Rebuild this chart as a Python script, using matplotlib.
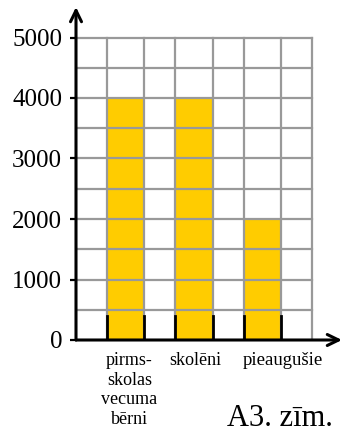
import matplotlib
matplotlib.use("Agg")
import matplotlib.pyplot as plt
import matplotlib.transforms as mtransforms

plt.rcParams["font.family"] = ["Liberation Serif", "DejaVu Serif"]

categories = ["pirms-\nskolas\nvecuma\nbērni", "skolēni", "pieaugušie"]
values = [4000, 4000, 2000]
yticks = [0, 1000, 2000, 3000, 4000, 5000]

gap = 1.0
barw = 1.2
ymax_grid = 5000
ystep = 500

lefts = [gap + i * (barw + gap) for i in range(len(values))]
centers = [l + barw / 2 for l in lefts]
xgrid_end = gap * (len(values) + 1) + barw * len(values)

fig = plt.figure(figsize=(3.43, 4.28), dpi=100)
ax = fig.add_axes([76 / 343, 88 / 428, 266 / 343, 333 / 428])
xmax = xgrid_end * 266 / 236
ymax = 5000 * 333 / 302.5
ax.set_xlim(0, xmax)
ax.set_ylim(0, ymax)

ax.bar(lefts, values, width=barw, align="edge", color="#ffcc00", zorder=1)

# grid
for y in range(ystep, ymax_grid + 1, ystep):
    ax.plot([0, xgrid_end], [y, y], color="#999999", lw=1.6, zorder=2)
xs = [0]
for l in lefts:
    xs += [l, l + barw]
xs.append(xgrid_end)
for x in xs[1:]:
    ax.plot([x, x], [0, ymax_grid], color="#999999", lw=1.6, zorder=2)

# short marks at bar edges
for l in lefts:
    ax.plot([l, l], [0, 390], color="black", lw=2, zorder=3)
    ax.plot([l + barw, l + barw], [0, 390], color="black", lw=2, zorder=3)

# axes with arrows
arrow = dict(arrowstyle="->,head_length=0.45,head_width=0.22", lw=2.2,
             color="black", shrinkA=0, shrinkB=0, mutation_scale=18)
ax.annotate("", xy=(0, ymax), xytext=(0, 0), arrowprops=arrow,
            annotation_clip=False, zorder=4)
ax.annotate("", xy=(xmax, 0), xytext=(0, 0), arrowprops=arrow,
            annotation_clip=False, zorder=4)

for s in ax.spines.values():
    s.set_visible(False)

ax.set_yticks(yticks)
ax.set_yticklabels([str(v) for v in yticks], fontsize=18)
ax.tick_params(axis="y", length=4, width=1.6, pad=6, colors="black")
ax.set_xticks([])

# category labels under the bars
trans = mtransforms.blended_transform_factory(ax.transData, ax.transAxes)
label_y = -12 / 333
ax.text(centers[0] + 0.12, label_y, categories[0], transform=trans,
        ha="center", va="top", fontsize=13, linespacing=1.2)
ax.text(centers[1] + 0.05, label_y, categories[1], transform=trans,
        ha="center", va="top", fontsize=13)
ax.text(lefts[2] - 0.02, label_y, categories[2], transform=trans,
        ha="left", va="top", fontsize=13.5)

fig.text(227 / 343, 0.004, "A3. zīm.", fontsize=22, va="baseline", ha="left")

fig.savefig("out.png", dpi=100)
